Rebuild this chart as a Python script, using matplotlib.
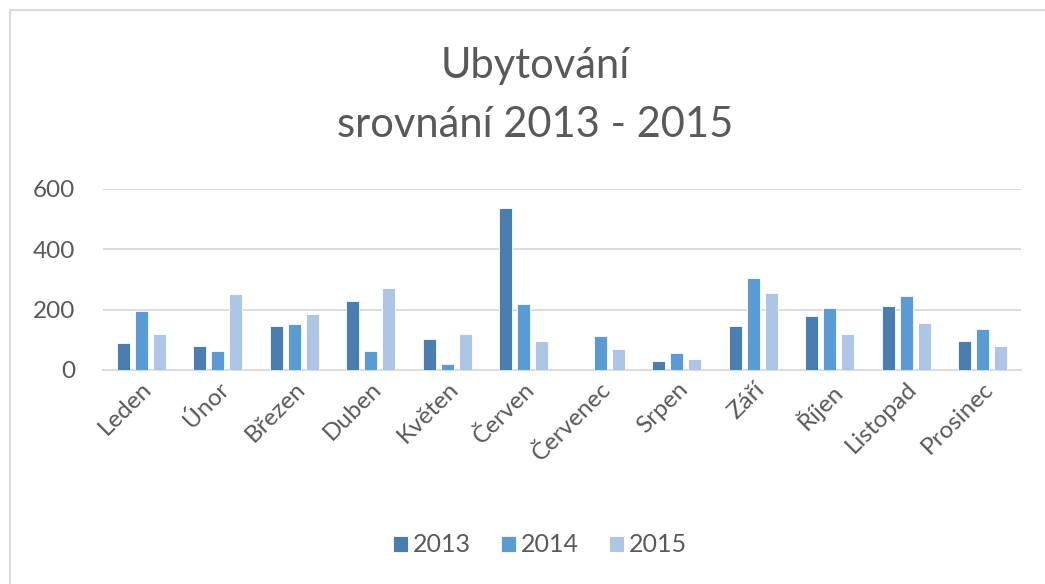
"""Ubytování – srovnání 2013 - 2015, grouped monthly bars."""

import matplotlib.pyplot as plt
import numpy as np
from matplotlib.patches import Rectangle

months = ["Leden", "Únor", "Březen", "Duben", "Květen", "Červen",
          "Červenec", "Srpen", "Září", "Říjen", "Listopad", "Prosinec"]
years = ["2013", "2014", "2015"]
values_2013 = [88, 79, 146, 229, 104, 537, 0, 29, 146, 179, 213, 96]
values_2014 = [196, 62, 154, 62, 21, 220, 112, 55, 304, 205, 246, 137]
values_2015 = [120, 253, 187, 271, 120, 96, 70, 37, 254, 120, 155, 79]
colors = ["#4a7db0", "#5b9bd5", "#adc6e6"]
yticks = [0, 200, 400, 600]

plt.rcParams["font.family"] = ["Lato", "DejaVu Sans"]
text_color = "#595959"

W, H = 1045, 584
fig = plt.figure(figsize=(W / 100, H / 100), dpi=100)

# outer chart border (only top/left visible in the crop)
fig.patches.append(Rectangle((10 / W, -0.1), 1.2, 1.1 - 10 / H,
                             transform=fig.transFigure, fill=False,
                             edgecolor="#d9d9d9", linewidth=1.5))

ax = fig.add_axes([103 / W, 1 - 370 / H, (1021 - 103) / W, (370 - 189) / H])

x = np.arange(len(months))
step = 0.235
width = 0.168
for i, (vals, year) in enumerate(zip([values_2013, values_2014, values_2015], years)):
    ax.bar(x + (i - 1) * step, vals, width, color=colors[i], label=year,
           edgecolor="white", linewidth=0.6, zorder=3)

ax.set_xlim(-0.5, len(months) - 0.5)
ax.set_ylim(0, 600)
ax.set_yticks(yticks)
ax.set_yticklabels([str(v) for v in yticks], fontsize=17.5, color=text_color)
ax.set_xticks(x)
ax.set_xticklabels(months, rotation=45, ha="right", rotation_mode="anchor",
                   fontsize=17.5, color=text_color)
ax.tick_params(length=0, axis="both")
ax.tick_params(axis="y", pad=20)
ax.tick_params(axis="x", pad=6)
ax.grid(axis="y", color="#d9d9d9", linewidth=1.3, zorder=0)
for side in ["top", "right", "left"]:
    ax.spines[side].set_visible(False)
ax.spines["bottom"].set_color("#d9d9d9")
ax.spines["bottom"].set_linewidth(1.3)

fig.text(0.512, 1 - 78 / H, "Ubytování", ha="center", va="baseline",
         fontsize=30, color=text_color)
fig.text(0.512, 1 - 137 / H, "srovnání 2013 - 2015", ha="center", va="baseline",
         fontsize=30, color=text_color)

fig.legend(loc="center", bbox_to_anchor=(0.517, 1 - 545 / H), ncol=3,
           frameon=False, fontsize=18, handlelength=0.6, handleheight=0.6,
           handletextpad=0.2, columnspacing=1.2, labelcolor=text_color)

fig.savefig("out.png", dpi=100)
